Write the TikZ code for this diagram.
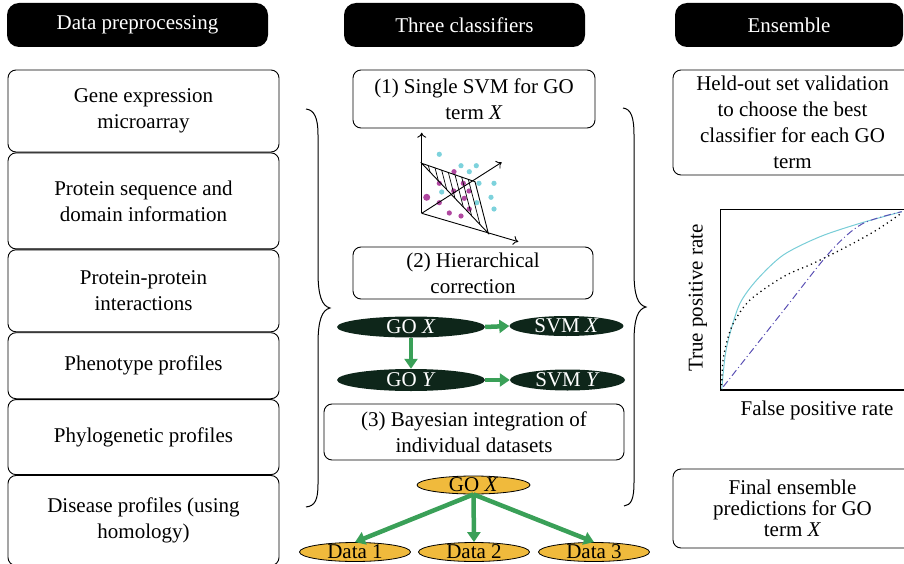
\documentclass[tikz,border=0pt]{standalone}
\usepackage{fontspec}
\setmainfont{Liberation Serif}
\usetikzlibrary{positioning,shapes.geometric,arrows.meta,calc}

\definecolor{godark}{RGB}{14,38,26}
\definecolor{dataorange}{RGB}{240,186,60}
\definecolor{arrowgreen}{RGB}{58,160,88}
\definecolor{dotcyan}{RGB}{125,210,220}
\definecolor{dotmagenta}{RGB}{176,72,160}
\definecolor{roccyan}{RGB}{120,205,215}
\definecolor{rocpurple}{RGB}{90,80,180}

\newcommand{\elltext}[1]{\raisebox{-6.5pt}[0pt][0pt]{#1}}

\begin{document}
\begin{tikzpicture}[x=1pt, y=-1pt,
    every node/.style={font=\fontsize{21}{26}\selectfont},
    header/.style={fill=black, text=white, rounded corners=12pt, minimum height=44, inner sep=0},
    databox/.style={draw, rounded corners=8pt, align=center, line width=0.9pt, inner sep=0},
    goell/.style={ellipse, fill=godark, text=white, inner sep=0},
    dataell/.style={ellipse, draw, line width=0.8pt, fill=dataorange, inner sep=0, minimum width=111, minimum height=19},
    fatarrow/.style={-{Triangle[length=10pt,width=13pt]}, line width=4.5pt, draw=arrowgreen},
    axarrow/.style={-{To[length=5pt,width=9pt]}, line width=0.9pt},
    brace/.style={line width=1pt},
    ]

    \useasboundingbox (0,0) rectangle (904,564);
    \clip (0,0) rectangle (904,564);

    % Column headers
    \node[header, minimum width=261] (hprep) at (137.5,25) {Data preprocessing};
    \node[header, minimum width=241] (hcls) at (464.5,25) {Three classifiers};
    \node[header, minimum width=228] (hens) at (789,25) {Ensemble};

    % Data sources
    \node[databox, minimum width=271, minimum height=82] (gene) at (143.5,111) {Gene expression\\microarray};
    \node[databox, minimum width=271, minimum height=96, below=0pt of gene] (seq) {Protein sequence and\\domain information};
    \node[databox, minimum width=271, minimum height=82, below=0pt of seq] (ppi) {Protein-protein\\interactions};
    \node[databox, minimum width=271, minimum height=66, below=0pt of ppi] (pheno) {Phenotype profiles};
    \node[databox, minimum width=271, minimum height=75, below=0pt of pheno] (phylo) {Phylogenetic profiles};
    \node[databox, minimum width=271, minimum height=90, below=0pt of phylo] (disease) {Disease profiles (using\\homology)};

    % Braces
    \draw[brace] (306,109) .. controls (314,110) and (318,117) .. (318,135) -- (318,272)
        .. controls (318,296) and (322,306) .. (330,308) .. controls (322,310) and (318,320) .. (318,344)
        -- (318,484) .. controls (318,500) and (315,506) .. (306,507);
    \draw[brace] (623,108) .. controls (631,109) and (634,117) .. (634,135) -- (634,272)
        .. controls (634,296) and (638,305) .. (646,307) .. controls (638,309) and (634,318) .. (634,342)
        -- (634,482) .. controls (634,500) and (631,505) .. (624,506);

    % Classifiers
    \node[databox, minimum width=242, minimum height=58] (svm) at (474,99) {(1) Single SVM for GO\\term \textit{X}};
    \node[databox, minimum width=240, minimum height=52] (hier) at (473,273) {(2) Hierarchical\\correction};
    \node[databox, minimum width=300, minimum height=56] (bayes) at (474,432) {(3) Bayesian integration of\\individual datasets};

    % SVM sketch
    \coordinate (o) at (421.7,213.3);
    \coordinate (ha) at (421.7,163.3);
    \coordinate (hb) at (475,181.7);
    \coordinate (hc) at (488.3,233.3);
    \foreach \x/\y in {439.3/154.3, 461/165.7, 476.3/165.7, 469.3/171.7, 479/183.3, 494/183.3,
        441.7/192, 491/197.3, 476.7/202.7, 494/209}
        \fill[dotcyan] (\x,\y) circle (2.6pt);
    \foreach \x/\y in {454/171.7, 439.3/183.3, 463.3/183.3, 469/191, 453.7/191, 439.3/202.7,
        464.3/198.3, 469.3/209, 449.3/213, 461/216}
        \fill[dotmagenta] (\x,\y) circle (2.6pt);
    \fill[dotmagenta] (426.7,197.3) circle (3.5pt);
    \draw[axarrow] (o) -- (421.7,132.7);
    \draw[axarrow] (o) -- (501.7,162.3);
    \draw[axarrow] (o) -- (518.3,241.7);
    \draw[line width=0.9pt] (ha) -- (hb) -- (hc) -- cycle;
    \foreach \t in {0.125,0.25,...,0.875}
        \draw[line width=0.7pt] ($(ha)!\t!(hb)$) -- ($(ha)!\t!(hc)$);

    % Hierarchy
    \node[goell, minimum width=148, minimum height=21] (gox) at (411,327) {\elltext{GO \textit{X}}};
    \node[goell, minimum width=114, minimum height=20] (svmx) at (566.5,326) {\elltext{SVM \textit{X}}};
    \node[goell, minimum width=148, minimum height=22] (goy) at (411,380) {\elltext{GO \textit{Y}}};
    \node[goell, minimum width=115, minimum height=21] (svmy) at (567.5,380) {\elltext{SVM \textit{Y}}};
    \draw[fatarrow] (gox.east) -- (svmx.west);
    \draw[fatarrow] (gox.south) -- (goy.north);
    \draw[fatarrow] (goy.east) -- (svmy.west);

    % Bayesian tree
    \node[dataell, minimum width=113, minimum height=18] (goxb) at (473.5,485) {\elltext{GO \textit{X}}};
    \node[dataell] (data1) at (355,552) {\elltext{Data 1}};
    \node[dataell] (data2) at (474,552) {\elltext{Data 2}};
    \node[dataell] (data3) at (594,552) {\elltext{Data 3}};
    \draw[fatarrow] (goxb.south) -- (data1.north);
    \draw[fatarrow] (goxb.south) -- (data2.north);
    \draw[fatarrow] (goxb.south) -- (data3.north);

    % Ensemble
    \node[databox, minimum width=239, minimum height=105] (held) at (792.5,122.5) {Held-out set validation\\to choose the best\\classifier for each GO\\term};
    \node[databox, minimum width=239, minimum height=79, font=\fontsize{21}{21}\selectfont] (final) at (792.5,508.5) {Final ensemble\\predictions for GO\\term \textit{X}};

    % ROC plot
    \draw[line width=1.2pt] (910,209.3) -- (720.7,209.3) -- (720.7,390) -- (910,390);
    \node[rotate=90] (tpr) at (698,298) {True positive rate};
    \node (fpr) at (817,410) {False positive rate};
    \draw[roccyan, line width=1pt] plot[smooth] coordinates {(721.7,390) (725,356.7) (730,333.3) (740,303.3)
        (756.7,280) (783.3,255) (820,236.7) (860,223.3) (901.7,211.7)};
    \draw[dash pattern=on 1.2pt off 3.6pt, line width=1.3pt] plot[smooth] coordinates {(721.7,390) (722.5,365) (726,345) (733.3,323.3)
        (750,300) (783.3,276.7) (813.3,263.3) (846.7,246.7) (876.7,230) (901.7,213)};
    \draw[rocpurple, dash pattern=on 7pt off 3pt on 1pt off 3pt, line width=1pt] plot[smooth] coordinates {(723.3,386.7) (780,315)
        (830,252) (862,224) (901.7,211.7)};
\end{tikzpicture}
\end{document}
